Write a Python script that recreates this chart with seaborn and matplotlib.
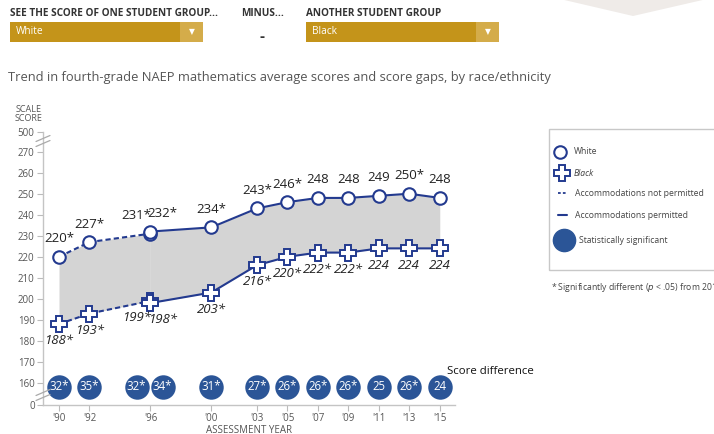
import matplotlib
matplotlib.use("Agg")
import matplotlib.pyplot as plt
from matplotlib.patches import Rectangle, Polygon
from matplotlib.lines import Line2D
import numpy as np
import pandas as pd
import seaborn as sns

# data
years = [1990, 1992, 1996, 1996, 2000, 2003, 2005, 2007, 2009, 2011, 2013, 2015]
accommodations = ["no", "no", "no", "yes", "yes", "yes", "yes", "yes", "yes", "yes", "yes", "yes"]
white = [220, 227, 231, 232, 234, 243, 246, 248, 248, 249, 250, 248]
white_sig = [True, True, True, True, True, True, True, False, False, False, True, False]
black = [188, 193, 199, 198, 203, 216, 220, 222, 222, 224, 224, 224]
black_sig = [True, True, True, True, True, True, True, True, True, False, False, False]
gaps = [32, 35, 32, 34, 31, 27, 26, 26, 26, 25, 26, 24]
gap_sig = [True, True, True, True, True, True, True, True, True, False, True, False]
year_ticks = [1990, 1992, 1996, 2000, 2003, 2005, 2007, 2009, 2011, 2013, 2015]
year_labels = ["'90", "'92", "'96", "'00", "'03", "'05", "'07", "'09", "'11", "'13", "'15"]
score_ticks = [0, 160, 170, 180, 190, 200, 210, 220, 230, 240, 250, 260, 270, 500]

df = pd.DataFrame({"year": years, "accom": accommodations, "white": white,
                   "black": black, "gap": gaps})
# 1996 has two assessments: shift the labels/circles apart a little
df["shift"] = [0, 0, -0.9, 0.8, 0, 0, 0, 0, 0, 0, 0, 0]

NAVY = "#233a8f"
BLUE = "#2b5597"
GOLD = "#c4941a"
W, H = 714, 434

sns.set_theme(style="white")
plt.rcParams["font.family"] = ["Open Sans", "DejaVu Sans"]


def broken(v):
    # axis is broken below 160 and above 270
    if v < 160:
        return 149.5
    if v > 270:
        return 279.5
    return v


def fx(x):
    return x / W


def fy(y):
    return 1 - y / H


fig = plt.figure(figsize=(W / 100, H / 100), dpi=100)
ax = fig.add_axes([fx(43), fy(405), 412 / W, 273.3 / H])

not_perm = df[df["accom"] == "no"]
perm = df[df["accom"] == "yes"]

ax.fill_between(not_perm["year"], not_perm["black"], not_perm["white"], color="#d4d4d4", lw=0)
ax.fill_between(perm["year"], perm["black"], perm["white"], color="#d4d4d4", lw=0)

for col in ["white", "black"]:
    sns.lineplot(data=not_perm, x="year", y=col, ax=ax, color=NAVY, lw=1.5,
                 linestyle=(0, (2.5, 1.5)), sort=False)
    sns.lineplot(data=perm, x="year", y=col, ax=ax, color=NAVY, lw=1.5, sort=False)

ax.plot(df["year"], df["white"], "o", ms=9, mfc="white", mec=NAVY, mew=1.5, ls="none")
ax.plot(df["year"], df["black"], "P", ms=11, mfc="white", mec=NAVY, mew=1.4, ls="none")

for i, r in df.iterrows():
    xs = r["year"] + r["shift"]
    ax.annotate(f"{r['white']}" + ("*" if white_sig[i] else ""), (xs, r["white"]),
                xytext=(0, 13), textcoords="offset points", ha="center", va="center",
                fontsize=9.5, color="#222222")
    ax.annotate(f"{r['black']}" + ("*" if black_sig[i] else ""), (xs, r["black"]),
                xytext=(0, -12), textcoords="offset points", ha="center", va="center",
                fontsize=9.5, color="#222222", style="italic")

# score difference row
gap_row = 158.2
gx = df["year"] + df["shift"]
ax.scatter(gx, [gap_row] * len(df), s=310, color=BLUE, lw=0, zorder=3, clip_on=False)
for i, r in df.iterrows():
    ax.text(r["year"] + r["shift"], gap_row, f"{r['gap']}" + ("*" if gap_sig[i] else ""),
            ha="center", va="center", color="white", fontsize=8.3, zorder=4)
ax.text(2015.45, 165.5, "Score difference", fontsize=8.2, color="#111111", ha="left", va="center")

ax.set_xlim(1988.95, 2016.0)
ax.set_ylim(149.5, 279.5)
ax.set_xticks(year_ticks)
ax.set_xticklabels(year_labels)
ax.set_yticks([broken(v) for v in score_ticks])
ax.set_yticklabels([str(v) for v in score_ticks])
ax.tick_params(axis="both", labelsize=7, colors="#555555", length=4, width=0.8,
               direction="out", pad=2)
ax.tick_params(axis="both", color="#bbbbbb")
ax.tick_params(axis="x", bottom=True)
ax.tick_params(axis="y", left=True)
for s in ["top", "right"]:
    ax.spines[s].set_visible(False)
for s in ["left", "bottom"]:
    ax.spines[s].set_color("#c4c4c4")
    ax.spines[s].set_linewidth(1)
ax.set_xlabel("ASSESSMENT YEAR", fontsize=7, color="#555555", labelpad=0.5)
ax.set_ylabel("")
ax.grid(False)

# break marks on the y axis
for yb in [395, 141]:
    for d in [-2.5, 2.5]:
        fig.add_artist(Line2D([fx(36), fx(50)], [fy(yb + 3 + d), fy(yb - 3 + d)],
                              color="#aaaaaa", lw=0.9))

fig.text(fx(29), fy(114), "SCALE\nSCORE", ha="center", va="center", fontsize=6.5,
         color="#555555", linespacing=1.0)

# title
fig.text(fx(8), fy(77), "Trend in fourth-grade NAEP mathematics average scores and score gaps, by race/ethnicity",
         fontsize=9.3, color="#555555", ha="left", va="center")

# top controls
fig.add_artist(Polygon([(fx(560), fy(-1)), (fx(633), fy(16)), (fx(707), fy(-1))],
                       closed=True, color="#efebe8", lw=0))
for x0, lab, head in [(10, "White", "SEE THE SCORE OF ONE STUDENT GROUP..."),
                      (306, "Black", "ANOTHER STUDENT GROUP")]:
    fig.add_artist(Rectangle((fx(x0), fy(42)), 193 / W, 20 / H, color=GOLD, lw=0))
    fig.add_artist(Rectangle((fx(x0 + 170), fy(42)), 23 / W, 20 / H, color="#d4ac4a", lw=0))
    fig.text(fx(x0 + 6), fy(32), lab, fontsize=7.3, color="white", va="center")
    fig.text(fx(x0 + 181.5), fy(32), "\u25BC", fontsize=5.5, color="white", va="center",
             ha="center", family=["DejaVu Sans"])
    fig.text(fx(x0), fy(14), head, fontsize=7.2, color="#333333", va="center", weight="bold")
fig.text(fx(241), fy(14), "MINUS...", fontsize=7.2, color="#333333", va="center", weight="bold")
fig.text(fx(262), fy(37), "-", fontsize=11, color="#333333", va="center", ha="center", weight="bold")

# legend box
fig.add_artist(Rectangle((fx(549), fy(270)), 170 / W, 141 / H, fill=False,
                         ec="#c8c8c8", lw=1))
fig.add_artist(Line2D([fx(560)], [fy(152)], marker="o", ms=9, mfc="white", mec=NAVY, mew=1.5))
fig.text(fx(574), fy(152), "White", fontsize=6.2, color="#444444", va="center")
fig.add_artist(Line2D([fx(562)], [fy(173)], marker="P", ms=11, mfc="white", mec=NAVY, mew=1.4))
fig.text(fx(574), fy(173), "Black", fontsize=6.2, color="#444444", va="center", style="italic")
fig.add_artist(Line2D([fx(558), fx(567)], [fy(193), fy(193)], color=NAVY, lw=1.3,
                      linestyle=(0, (1.5, 1.2))))
fig.text(fx(575), fy(193), "Accommodations not permitted", fontsize=6.2, color="#444444", va="center")
fig.add_artist(Line2D([fx(558), fx(567)], [fy(215), fy(215)], color=NAVY, lw=1.5))
fig.text(fx(575), fy(215), "Accommodations permitted", fontsize=6.2, color="#444444", va="center")
fig.add_artist(Line2D([fx(564)], [fy(240)], marker="o", ms=16, mfc=BLUE, mec=BLUE))
fig.text(fx(579), fy(240), "Statistically significant", fontsize=6.2, color="#444444", va="center")
fig.text(fx(551), fy(287), "* Significantly different ($\\it{p}$ < .05) from 2015", fontsize=6.2,
         color="#444444", va="center")

fig.savefig("out.png", dpi=100)
